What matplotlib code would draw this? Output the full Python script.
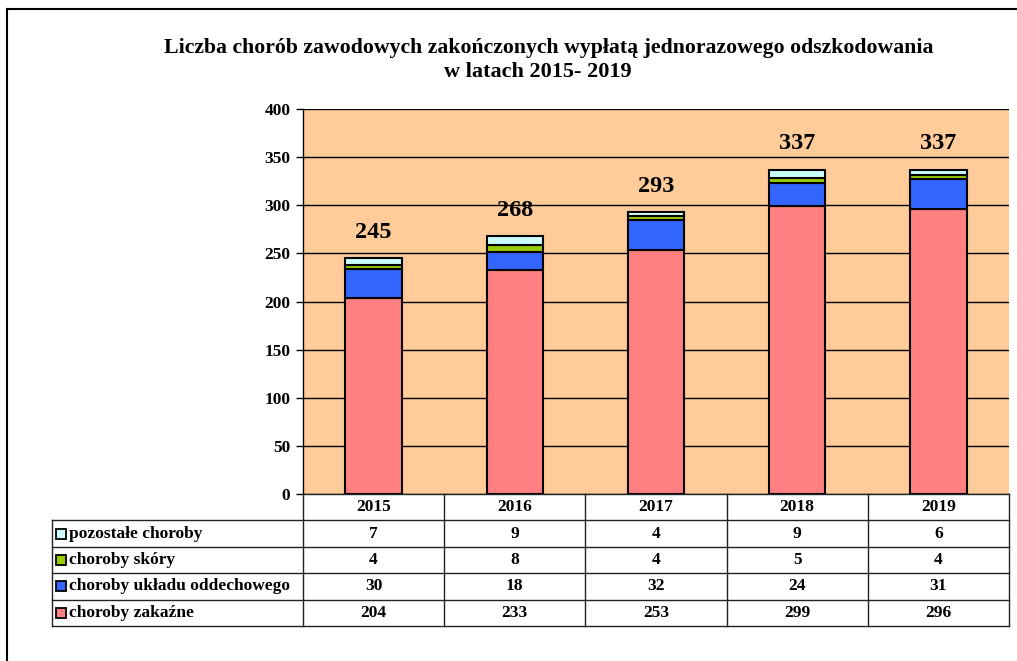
import matplotlib
matplotlib.use('Agg')
import matplotlib.pyplot as plt
from matplotlib.lines import Line2D
import numpy as np

# dane
lata = ['2015', '2016', '2017', '2018', '2019']
zakazne = [204, 233, 253, 299, 296]
oddechowe = [30, 18, 32, 24, 31]
skora = [4, 8, 4, 5, 4]
pozostale = [7, 9, 4, 9, 6]

serie = [
    ('choroby zakaźne', zakazne, '#FF8080'),
    ('choroby układu oddechowego', oddechowe, '#3366FF'),
    ('choroby skóry', skora, '#99CC00'),
    ('pozostałe choroby', pozostale, '#CCFFFF'),
]

plt.rcParams['font.family'] = ['Liberation Serif', 'DejaVu Serif']
plt.rcParams['font.weight'] = 'bold'

W, H = 1017, 661
fig = plt.figure(figsize=(W / 100, H / 100), dpi=100)

# obszar wykresu (piksele)
x0, x1, ytop, ybot = 303, 1009, 109, 494
ax = fig.add_axes([x0 / W, 1 - ybot / H, (x1 - x0) / W, (ybot - ytop) / H])
ax.set_facecolor('#FFCC99')

x = np.arange(len(lata))
dol = np.zeros(len(lata))
for nazwa, wart, kolor in serie:
    ax.bar(x, wart, 0.4, bottom=dol, color=kolor, edgecolor='black', linewidth=1.5, zorder=3)
    dol += np.array(wart)

for xi, s in zip(x, dol):
    ax.text(xi, s + 27, f'{int(s)}', ha='center', va='center', fontsize=17.5, fontweight='bold')

ax.set_xlim(-0.5, len(lata) - 0.5)
ax.set_ylim(0, 400)
ax.set_yticks(range(0, 401, 50))
ax.yaxis.grid(True, color='black', linewidth=1, zorder=0)
ax.set_xticks([])
ax.tick_params(axis='y', length=5, width=1, labelsize=12.5, pad=4)
for t in ax.get_yticklabels():
    t.set_fontweight('bold')
for sp in ['top', 'right', 'bottom']:
    ax.spines[sp].set_visible(False)
ax.spines['left'].set_linewidth(1)

# tabela z danymi
tx0, tybot = 52, 626
szer_kol = (x1 - x0) / len(lata)
lewa = (x0 - tx0) / szer_kol
tab = fig.add_axes([tx0 / W, 1 - tybot / H, (x1 - tx0) / W, (tybot - ybot) / H])
tab.set_xlim(-0.5 - lewa, len(lata) - 0.5)
tab.set_ylim(5, 0)
tab.axis('off')
lk = dict(color='#222222', linewidth=1, clip_on=False)
# linie poziome
tab.plot([-0.5, len(lata) - 0.5], [0, 0], **lk)
for r in range(1, 6):
    tab.plot([-0.5 - lewa, len(lata) - 0.5], [r, r], **lk)
# linie pionowe
tab.plot([-0.5 - lewa, -0.5 - lewa], [1, 5], **lk)
for c in range(len(lata) + 1):
    tab.plot([c - 0.5, c - 0.5], [0, 5], **lk)

for i, rok in enumerate(lata):
    tab.text(i, 0.5, rok, ha='center', va='center', fontsize=12.5, fontweight='bold')

for r, (nazwa, wart, kolor) in enumerate(reversed(serie)):
    yy = r + 1.5
    tab.plot([-0.5 - lewa + 0.065], [yy], marker='s', markersize=6.5, markerfacecolor=kolor,
             markeredgecolor='black', markeredgewidth=1.3, clip_on=False)
    tab.text(-0.5 - lewa + 0.12, yy, nazwa, ha='left', va='center', fontsize=12.5, fontweight='bold')
    for i, v in enumerate(wart):
        tab.text(i, yy, str(v), ha='center', va='center', fontsize=12.5, fontweight='bold')

# tytuł
fig.text(549 / W, 1 - 48 / H, 'Liczba chorób zawodowych zakończonych wypłatą jednorazowego odszkodowania',
         ha='center', va='center', fontsize=15.7, fontweight='bold')
fig.text(538 / W, 1 - 72 / H, 'w latach 2015- 2019', ha='center', va='center', fontsize=16, fontweight='bold')

# ramka
fig.add_artist(Line2D([7 / W, 1], [1 - 9 / H, 1 - 9 / H], color='black', linewidth=1.5))
fig.add_artist(Line2D([7 / W, 7 / W], [0, 1 - 9 / H], color='black', linewidth=1.5))

fig.savefig('out.png', dpi=100)
